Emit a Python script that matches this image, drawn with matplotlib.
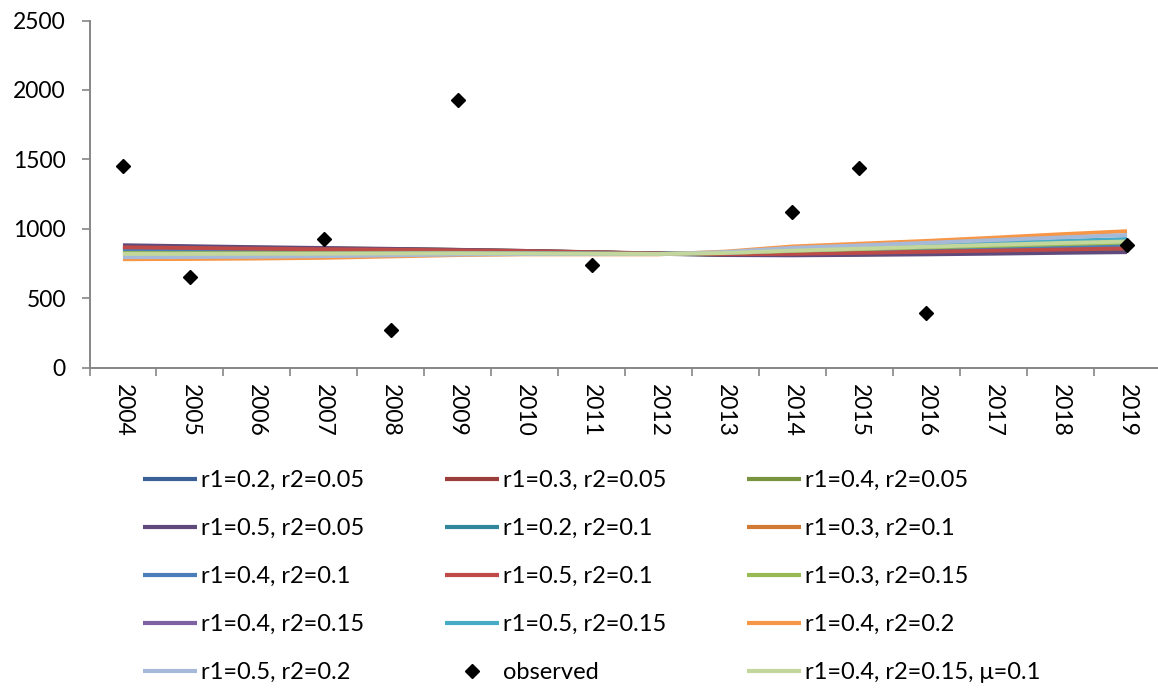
import numpy as np
import matplotlib
matplotlib.use("Agg")
import matplotlib.pyplot as plt

plt.rcParams['font.family'] = ['Lato', 'DejaVu Sans']

years = [str(y) for y in range(2004, 2020)]

# model runs (population estimates per year)
s_r02_r005 = [860, 856, 852, 849, 846, 842, 836, 829, 821, 815, 816, 822, 828, 835, 842, 848]
s_r03_r005 = [870, 865, 860, 856, 852, 847, 840, 831, 822, 814, 815, 820, 826, 832, 839, 845]
s_r04_r005 = [875, 869, 863, 858, 853, 847, 839, 830, 820, 812, 812, 816, 821, 827, 832, 838]
s_r05_r005 = [881, 874, 867, 861, 855, 848, 840, 830, 819, 810, 808, 811, 815, 820, 826, 831]
s_r02_r01 = [840, 838, 836, 835, 834, 833, 830, 826, 820, 822, 832, 842, 850, 858, 866, 874]
s_r03_r01 = [850, 847, 844, 842, 840, 838, 834, 828, 820, 820, 828, 836, 843, 850, 858, 866]
s_r04_r01 = [845, 842, 840, 839, 838, 836, 833, 828, 821, 823, 834, 845, 855, 864, 872, 880]
s_r05_r01 = [866, 861, 856, 852, 849, 844, 838, 830, 821, 816, 819, 826, 834, 842, 850, 858]
s_r03_r015 = [825, 824, 824, 825, 826, 826, 825, 822, 818, 824, 840, 853, 865, 876, 888, 900]
s_r04_r015 = [818, 818, 818, 820, 822, 823, 823, 821, 818, 826, 845, 860, 874, 888, 902, 915]
s_r05_r015 = [812, 812, 813, 815, 818, 820, 821, 820, 818, 828, 850, 866, 882, 898, 912, 926]
s_r04_r02 = [780, 782, 785, 790, 800, 810, 815, 815, 815, 835, 872, 892, 912, 935, 960, 982]
s_r05_r02 = [795, 796, 798, 802, 808, 814, 817, 817, 817, 832, 862, 880, 898, 918, 937, 955]
s_mu = [818, 818, 819, 820, 822, 823, 822, 820, 818, 825, 842, 856, 870, 884, 897, 908]

observed_years = ['2004', '2005', '2007', '2008', '2009', '2011', '2014', '2015', '2016', '2019']
observed = [1450, 655, 927, 273, 1925, 738, 1121, 1437, 393, 886]

series = [
    ("r1=0.2, r2=0.05", s_r02_r005, "#3B6096"),
    ("r1=0.3, r2=0.05", s_r03_r005, "#9B3D3A"),
    ("r1=0.4, r2=0.05", s_r04_r005, "#78943F"),
    ("r1=0.5, r2=0.05", s_r05_r005, "#604A7B"),
    ("r1=0.2, r2=0.1", s_r02_r01, "#31869C"),
    ("r1=0.3, r2=0.1", s_r03_r01, "#D07A35"),
    ("r1=0.4, r2=0.1", s_r04_r01, "#4A7EBB"),
    ("r1=0.5, r2=0.1", s_r05_r01, "#BE4B48"),
    ("r1=0.3, r2=0.15", s_r03_r015, "#98B954"),
    ("r1=0.4, r2=0.15", s_r04_r015, "#7E62A1"),
    ("r1=0.5, r2=0.15", s_r05_r015, "#47ABC6"),
    ("r1=0.4, r2=0.2", s_r04_r02, "#F79646"),
    ("r1=0.5, r2=0.2", s_r05_r02, "#A7B9D8"),
]

W, H = 1158, 688
fig = plt.figure(figsize=(W / 100, H / 100), dpi=100)
ax = fig.add_axes([89.5 / W, (H - 367.5) / H, 1071 / W, 347 / H])

x = np.arange(len(years))
handles = []
for label, vals, col in series:
    h, = ax.plot(x, vals, color=col, lw=2.8, solid_capstyle='butt', label=label)
    handles.append(h)

ox = [years.index(y) for y in observed_years]
hobs, = ax.plot(ox, observed, ls='none', marker='D', ms=7.5, color='black',
                label='observed', zorder=5)
handles.append(hobs)

hmu, = ax.plot(x, s_mu, color="#C3D69B", lw=2.8, solid_capstyle='butt',
               label="r1=0.4, r2=0.15, \u03bc=0.1")
handles.append(hmu)

ax.set_xlim(-0.5, len(years) - 0.5)
ax.set_ylim(0, 2500)
ax.set_yticks(np.arange(0, 2501, 500))

ax.set_xticks(np.arange(-0.5, len(years), 1.0))
ax.set_xticklabels([])
ax.set_xticks(x, minor=True)
ax.set_xticklabels(years, minor=True, rotation=-90, fontsize=16.5)

axis_col = "#868686"
for side in ('top', 'right'):
    ax.spines[side].set_visible(False)
for side in ('left', 'bottom'):
    ax.spines[side].set_color(axis_col)
    ax.spines[side].set_linewidth(1.4)

ax.tick_params(axis='y', which='major', direction='out', length=6, width=1.2,
               color=axis_col, labelsize=16.5, pad=11)
ax.tick_params(axis='x', which='major', direction='out', length=6, width=1.2,
               color=axis_col)
ax.tick_params(axis='x', which='minor', length=0, pad=12)

# legend laid out row by row in three columns
ncol, nrow = 3, 5
ordered = [handles[r * ncol + c] for c in range(ncol) for r in range(nrow)]
leg = fig.legend(handles=ordered, labels=[h.get_label() for h in ordered],
                 ncol=ncol, loc='upper left',
                 bbox_to_anchor=(143 / W, 1 - 470 / H),
                 frameon=False, fontsize=17, handlelength=2.3, handletextpad=0.17,
                 columnspacing=3.4, labelspacing=1.145, borderpad=0,
                 borderaxespad=0, numpoints=1)
for lh in leg.get_lines():
    if lh.get_linestyle() != 'None':
        lh.set_linewidth(3.0)

fig.savefig("out.png", dpi=100)
